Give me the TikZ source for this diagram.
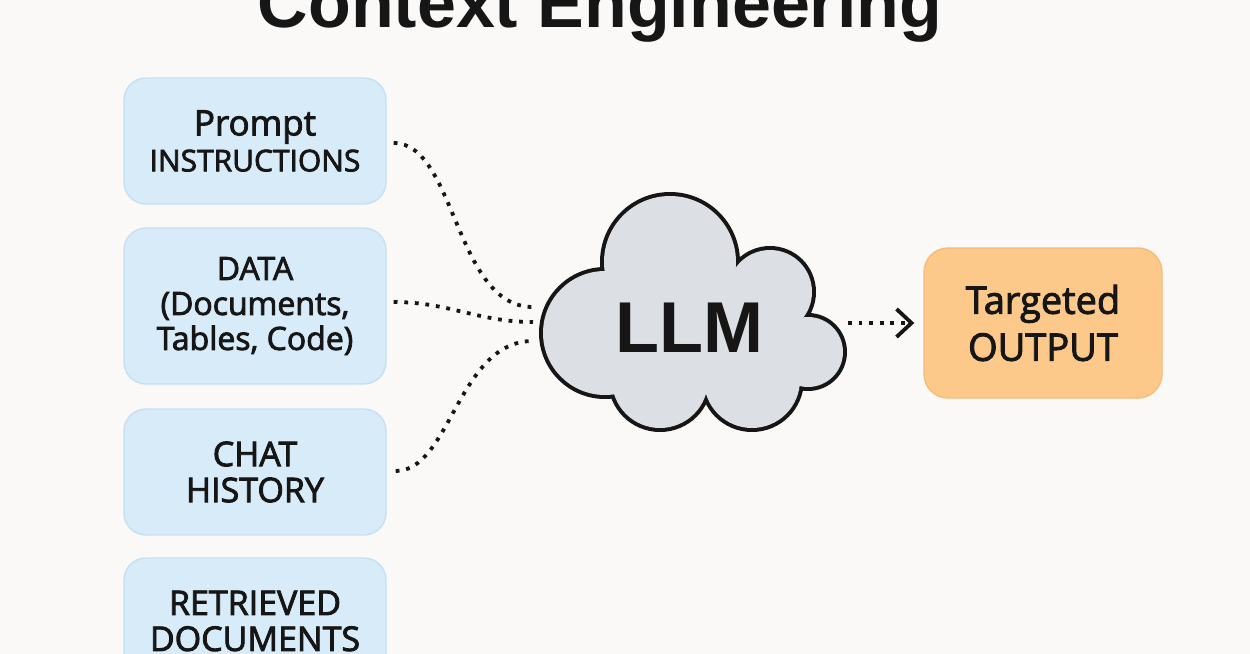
\documentclass[tikz,border=0pt]{standalone}
\usepackage{fontspec}
\setmainfont{Liberation Sans}
\newfontfamily\lblfont[FakeBold=2.5]{Open Sans}
\usetikzlibrary{arrows.meta}
\definecolor{bg}{HTML}{FAF9F7}
\definecolor{boxfill}{HTML}{D7EBF8}
\definecolor{boxline}{HTML}{C6E0F2}
\definecolor{outfill}{HTML}{FDC98B}
\definecolor{outline}{HTML}{F6BC79}
\definecolor{cloudfill}{HTML}{DCDFE4}
\definecolor{ink}{HTML}{161616}
\tikzset{
  inbox/.style={draw=boxline, fill=boxfill, line width=0.7pt, rounded corners=11pt,
    minimum width=131pt, align=center, text=ink, inner sep=0pt},
  outbox/.style={draw=outline, fill=outfill, line width=0.7pt, rounded corners=12pt,
    minimum width=119pt, minimum height=75pt, align=center, text=ink, inner sep=0pt},
  conn/.style={draw=ink, line width=1.9pt, dash pattern=on 1.9pt off 3.4pt},
}
\begin{document}
\begin{tikzpicture}[x=0.5pt,y=-0.5pt]
\useasboundingbox (0,0) rectangle (1250,654);
\fill[bg] (0,0) rectangle (1250,654);
\clip (0,0) rectangle (1250,654);

% title
\node[font=\fontsize{35}{40}\selectfont\bfseries, text=ink, anchor=base, inner sep=0pt] (title) at (600,27) {Context Engineering};

% input boxes
\node[inbox, minimum height=63pt, font=\lblfont\fontsize{15}{18}\selectfont] (p1) at (255,141) {{\fontsize{17.5}{18}\selectfont Prompt}\\INSTRUCTIONS};
\node[inbox, minimum height=78pt, font=\lblfont\fontsize{16}{17.5}\selectfont] (p2) at (255,306) {DATA\\(Documents,\\Tables, Code)};
\node[inbox, minimum height=63pt, font=\lblfont\fontsize{17}{18}\selectfont] (p3) at (255,472) {CHAT\\HISTORY};
\node[inbox, minimum height=63pt, font=\lblfont\fontsize{17}{18}\selectfont] (p4) at (255,621) {RETRIEVED\\DOCUMENTS};

% cloud
\foreach \cx/\cy/\r in {670/262/33pt, 770/292/21pt, 808/352/17.5pt, 752/380/24pt, 660/380/24pt, 605/333/31pt}
  \draw[ink, line width=4pt] (\cx,\cy) circle[radius=\r];
\fill[cloudfill] (670,262) -- (770,292) -- (808,352) -- (752,380) -- (660,380) -- (605,333) -- cycle;
\foreach \cx/\cy/\r in {670/262/33pt, 770/292/21pt, 808/352/17.5pt, 752/380/24pt, 660/380/24pt, 605/333/31pt}
  \fill[cloudfill] (\cx,\cy) circle[radius=\r];
\node[font=\fontsize{36}{40}\selectfont\bfseries, text=ink] (llm) at (689,328) {LLM};

% output box
\node[outbox, font=\lblfont\fontsize{19}{23.5}\selectfont] (out) at (1043,323) {Targeted\\OUTPUT};

% connector end points
\coordinate (c1) at (533,307);
\coordinate (c2) at (533,322);
\coordinate (c3) at (533,341);
\coordinate (a1) at (848,323);

\draw[conn] ([xshift=3.5pt,yshift=-1pt]p1.east) .. controls +(62,0) and +(-78,0) .. (c1);
\draw[conn] ([xshift=3.5pt,yshift=2pt]p2.east) .. controls +(55,0) and +(-55,0) .. (c2);
\draw[conn] ([xshift=4.5pt,yshift=0.5pt]p3.east) .. controls +(55,0) and +(-75,0) .. (c3);
\draw[conn, -{Straight Barb[length=7.5pt,width=14pt]}] (a1) -- ([xshift=-4.5pt]out.west);
\end{tikzpicture}
\end{document}
